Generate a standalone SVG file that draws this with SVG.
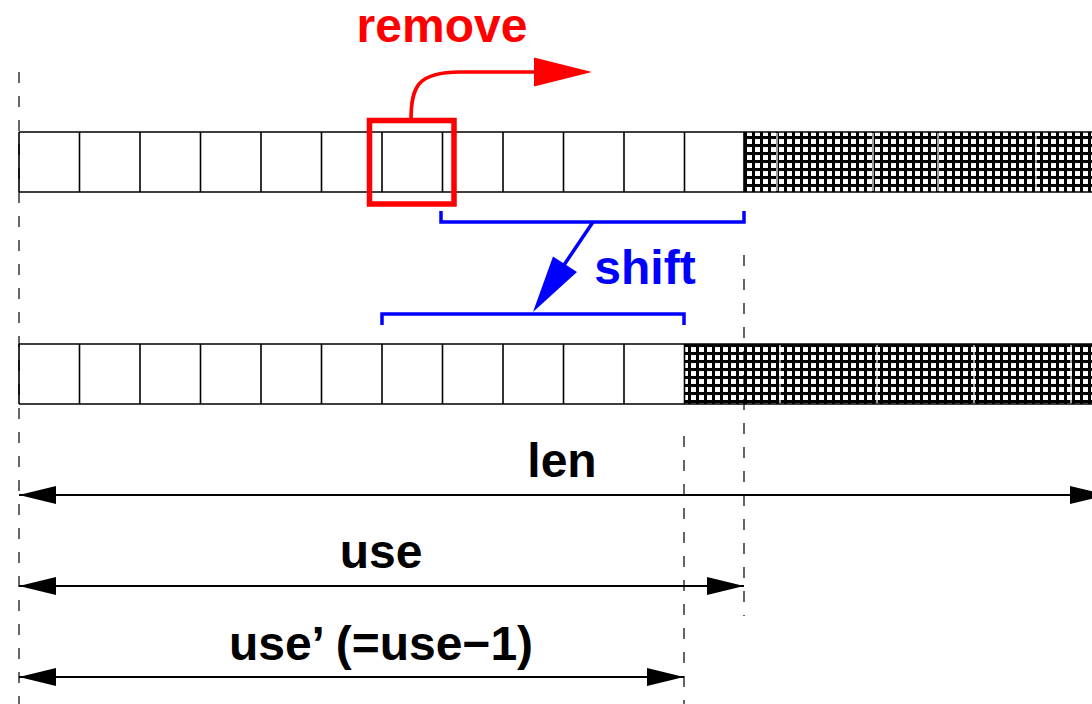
<svg xmlns="http://www.w3.org/2000/svg" width="1092" height="704" viewBox="0 0 1092 704">
  <defs>
    <pattern id="grid" patternUnits="userSpaceOnUse" x="0" y="0" width="8" height="8">
      <rect width="8" height="8" fill="#fff"/>
      <path d="M0,1.5 H8 M1.5,0 V8" stroke="#000" stroke-width="3" fill="none"/>
    </pattern>
    <marker id="ah" viewBox="0 0 37 18" refX="37" refY="9" markerWidth="37" markerHeight="18" markerUnits="userSpaceOnUse" orient="auto-start-reverse">
      <path d="M0,0 L37,9 L0,18 Z" fill="#000"/>
    </marker>
  </defs>
  <style>
    .sep { stroke: #000; stroke-width: 1.6; }
    .seam { stroke: #fff; stroke-width: 1.2; }
    .dash { stroke: #000; stroke-width: 1.2; stroke-dasharray: 11 13; fill: none; }
    .dim { stroke: #000; stroke-width: 1.8; fill: none; marker-start: url(#ah); marker-end: url(#ah); }
    .lbl { font-family: "Liberation Sans", Arial, sans-serif; font-weight: bold; font-size: 48px; text-anchor: middle; }
    .blue { stroke: #0000ff; stroke-width: 3.5; fill: none; }
  </style>

  <rect width="1092" height="704" fill="#fff"/>

  <!-- array before removal -->
  <g id="array-before">
    <rect x="744" y="132" width="360" height="60" fill="url(#grid)"/>
    <path class="seam" d="M777,133 V191 M873,133 V191 M938,133 V191 M1036,133 V191"/>
    <path class="sep" d="M19,132 H1092 M19,192 H1092"/>
    <path class="sep" d="M19,132 V192 M79.5,132 V192 M140,132 V192 M200.5,132 V192 M261,132 V192 M321.5,132 V192 M382,132 V192 M442.5,132 V192 M503,132 V192 M563.5,132 V192 M624,132 V192 M684.5,132 V192 M744,132 V192"/>
  </g>

  <!-- array after removal -->
  <g id="array-after">
    <rect x="684" y="344" width="420" height="60" fill="url(#grid)"/>
    <path class="seam" d="M780,345 V403 M877,345 V403 M974,345 V403 M1071,345 V403"/>
    <path class="sep" d="M19,344 H1092 M19,404 H1092"/>
    <path class="sep" d="M19,344 V404 M79.5,344 V404 M140,344 V404 M200.5,344 V404 M261,344 V404 M321.5,344 V404 M382,344 V404 M442.5,344 V404 M503,344 V404 M563.5,344 V404 M624,344 V404 M684.5,344 V404"/>
  </g>

  <!-- guide lines -->
  <g id="guides">
    <path class="dash" d="M19,72 V704"/>
    <path class="dash" d="M744,255 V616"/>
    <path class="dash" d="M684,436 V704"/>
  </g>

  <!-- removed element -->
  <g id="remove">
    <rect x="369.5" y="120.5" width="84.5" height="83.5" fill="none" stroke="#ff0000" stroke-width="5.5"/>
    <path d="M411,120 C411,86 418,72 460,72 L540,72" fill="none" stroke="#ff0000" stroke-width="3.6"/>
    <path d="M534,57.5 L592,72 L534,86.5 Z" fill="#ff0000"/>
    <text class="lbl" x="442" y="42" fill="#ff0000">remove</text>
  </g>

  <!-- shift of remaining elements -->
  <g id="shift">
    <path class="blue" d="M441,211 V222 H744 V211"/>
    <path class="blue" d="M382,325 V314 H684 V325"/>
    <path d="M593,222 L564,265" stroke="#0000ff" stroke-width="3.5" fill="none"/>
    <path d="M553,256.5 L577,272 L533,312 Z" fill="#0000ff"/>
    <text class="lbl" x="645" y="284" fill="#0000ff">shift</text>
  </g>

  <!-- dimension lines -->
  <g id="connectors">
    <path class="dim" d="M19,495 H1107"/>
    <path class="dim" d="M19,586 H744"/>
    <path class="dim" d="M19,677 H684"/>
  </g>

  <g id="labels">
    <text class="lbl" x="562" y="477">len</text>
    <text class="lbl" x="381" y="568">use</text>
    <text class="lbl" x="381" y="660">use’ (=use−1)</text>
  </g>
</svg>
